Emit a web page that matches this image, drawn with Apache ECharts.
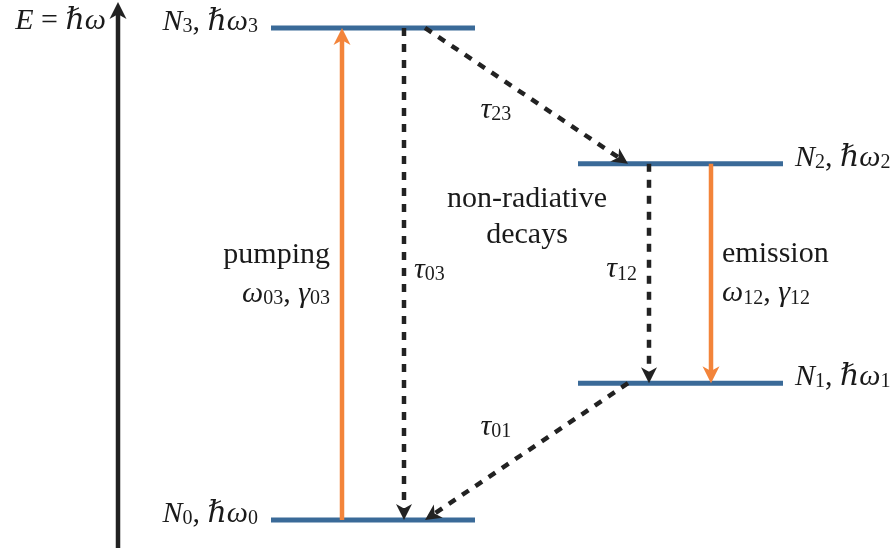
<!DOCTYPE html>
<html>
<head>
<meta charset="utf-8">
<title>Four-level laser scheme</title>
<script src="https://cdn.jsdelivr.net/npm/echarts@6/dist/echarts.min.js"></script>
<style>
  html, body { margin: 0; padding: 0; background: #ffffff; }
  #chart { width: 896px; height: 552px; }
</style>
</head>
<body>
<div id="chart"></div>
<script>
// ---- data -------------------------------------------------------------
// level energies E = ħω in arbitrary units (N3 = 10)
const levelIndex  = ['0', '1', '2', '3'];
const levelEnergy = [0, 2.78, 7.24, 10];

// transitions between levels
const transFrom = [0, 3, 3, 2, 2, 1];
const transTo   = [3, 0, 2, 1, 1, 0];
const transKind = ['radiative', 'decay', 'decay', 'decay', 'radiative', 'decay'];
const transText = [
  ['pumping', '{i|ω}{s|03}{r|, }{i|γ}{s|03}'],
  ['{i|τ}{s|03}'],
  ['{i|τ}{s|23}'],
  ['{i|τ}{s|12}'],
  ['emission', '{i|ω}{s|12}{r|, }{i|γ}{s|12}'],
  ['{i|τ}{s|01}']
];

// energy axis extent
const energyAxisRange = [-0.57, 10.53];

// ---- layout (horizontal placement, px along the x axis) ---------------
const levelSpan = [[271, 475], [578, 783], [578, 783], [271, 475]];
const levelSide = ['left', 'right', 'right', 'left'];
const transX = [[342, 342], [404, 404], [425, 628], [649, 649], [711, 711], [628, 425]];
// label placement relative to each transition's midpoint
const transLabelPos = [
  { dx: -12, dy: [-19, 20], align: 'right' },
  { dx: 10, dy: [-4], align: 'left' },
  { dx: -46, dy: [14], align: 'left' },
  { dx: -12, dy: [-4], align: 'right' },
  { dx: 11, dy: [-19, 20], align: 'left' },
  { dx: -46, dy: [-25], align: 'left' }
];
const axisX = 118;

// ---- styles -----------------------------------------------------------
const FONT = 'Liberation Serif, DejaVu Serif, serif';
const TEXT = '#1a1a1a';
const BLUE = '#3a6a98';
const ORANGE = '#f3843a';
const BLACK = '#222222';

const rich = {
  r: { fontFamily: FONT, fontSize: 30, lineHeight: 30, fill: TEXT },
  i: { fontFamily: FONT, fontSize: 30, lineHeight: 30, fontStyle: 'italic', fill: TEXT },
  s: { fontFamily: FONT, fontSize: 20, lineHeight: 13, verticalAlign: 'bottom', fill: TEXT }
};

function richLine(str, x, y, align) {
  const txt = str.indexOf('{') === 0 ? str : '{r|' + str + '}';
  return {
    type: 'text', x: x, y: y,
    style: { text: txt, rich: rich, align: align, verticalAlign: 'middle' }
  };
}

// concave ("stealth") arrow head with its tip at p
function arrowHead(p, ux, uy, len, wid) {
  const px = -uy, py = ux;
  const bx = p[0] - ux * len, by = p[1] - uy * len;
  return [
    [p[0], p[1]],
    [bx + px * wid / 2, by + py * wid / 2],
    [p[0] - ux * len * 0.72, p[1] - uy * len * 0.72],
    [bx - px * wid / 2, by - py * wid / 2]
  ];
}

function arrowShape(p0, p1, color, dashed, len, wid, lw) {
  const dx = p1[0] - p0[0], dy = p1[1] - p0[1];
  const d = Math.hypot(dx, dy);
  const ux = dx / d, uy = dy / d;
  const end = [p1[0] - ux * len * 0.66, p1[1] - uy * len * 0.66];
  return [
    {
      type: 'line',
      shape: { x1: p0[0], y1: p0[1], x2: end[0], y2: end[1] },
      style: { stroke: color, lineWidth: lw, fill: null, lineDash: dashed ? [8, 8] : null, lineCap: 'butt' }
    },
    {
      type: 'polygon',
      shape: { points: arrowHead(p1, ux, uy, len, wid) },
      style: { fill: color, stroke: null }
    }
  ];
}

// ---- series data built from the arrays --------------------------------
const levelData = levelEnergy.map((e, k) => [levelSpan[k][0], e, levelSpan[k][1], e]);
const transData = transFrom.map((f, k) =>
  [transX[k][0], levelEnergy[f], transX[k][1], levelEnergy[transTo[k]]]);
const axisData = [[axisX, energyAxisRange[0], axisX, energyAxisRange[1]]];

const chart = echarts.init(document.getElementById('chart'), null, { renderer: 'canvas' });

chart.setOption({
  animation: false,
  backgroundColor: '#ffffff',
  grid: { left: 0, right: 0, top: 0, bottom: 0 },
  xAxis: { type: 'value', min: 0, max: 896, show: false },
  yAxis: { type: 'value', min: -0.6504, max: 10.569, show: false },
  series: [
    {
      // energy levels
      type: 'custom',
      coordinateSystem: 'cartesian2d',
      data: levelData,
      renderItem: function (params, api) {
        const k = params.dataIndex;
        const a = api.coord([api.value(0), api.value(1)]);
        const b = api.coord([api.value(2), api.value(3)]);
        const n = levelIndex[k];
        const label = '{i|N}{s|' + n + '}{r|, }{i|ℏω}{s|' + n + '}';
        const onLeft = levelSide[k] === 'left';
        return {
          type: 'group',
          children: [
            {
              type: 'line',
              shape: { x1: a[0], y1: a[1], x2: b[0], y2: b[1] },
              style: { stroke: BLUE, lineWidth: 5, fill: null }
            },
            richLine(label, onLeft ? a[0] - 13 : b[0] + 12, a[1] - 6, onLeft ? 'right' : 'left')
          ]
        };
      },
      z: 1
    },
    {
      // transitions: pumping / emission (solid) and non-radiative decays (dashed)
      type: 'custom',
      coordinateSystem: 'cartesian2d',
      data: transData,
      renderItem: function (params, api) {
        const k = params.dataIndex;
        const p0 = api.coord([api.value(0), api.value(1)]);
        const p1 = api.coord([api.value(2), api.value(3)]);
        const radiative = transKind[k] === 'radiative';
        const children = radiative
          ? arrowShape(p0, p1, ORANGE, false, 17, 17, 4.5)
          : arrowShape(p0, p1, BLACK, true, 16, 16, 4.5);
        const mx = (p0[0] + p1[0]) / 2, my = (p0[1] + p1[1]) / 2;
        const pos = transLabelPos[k];
        transText[k].forEach(function (line, j) {
          children.push(richLine(line, mx + pos.dx, my + pos.dy[j], pos.align));
        });
        return { type: 'group', children: children };
      },
      z: 2
    },
    {
      // energy axis
      type: 'custom',
      coordinateSystem: 'cartesian2d',
      data: axisData,
      renderItem: function (params, api) {
        const p0 = api.coord([api.value(0), api.value(1)]);
        const p1 = api.coord([api.value(2), api.value(3)]);
        const children = arrowShape(p0, p1, BLACK, false, 17, 17, 4.5);
        children.push(richLine('{i|E}{r| = }{i|ℏω}', p1[0] - 12, p1[1] + 19.5, 'right'));
        return { type: 'group', children: children };
      },
      z: 2
    }
  ],
  graphic: [
    {
      type: 'text', x: 527, y: 199,
      style: { text: 'non-radiative', fontFamily: FONT, fontSize: 30, fill: TEXT, align: 'center', verticalAlign: 'middle' }
    },
    {
      type: 'text', x: 527, y: 235,
      style: { text: 'decays', fontFamily: FONT, fontSize: 30, fill: TEXT, align: 'center', verticalAlign: 'middle' }
    }
  ]
});
</script>
</body>
</html>
